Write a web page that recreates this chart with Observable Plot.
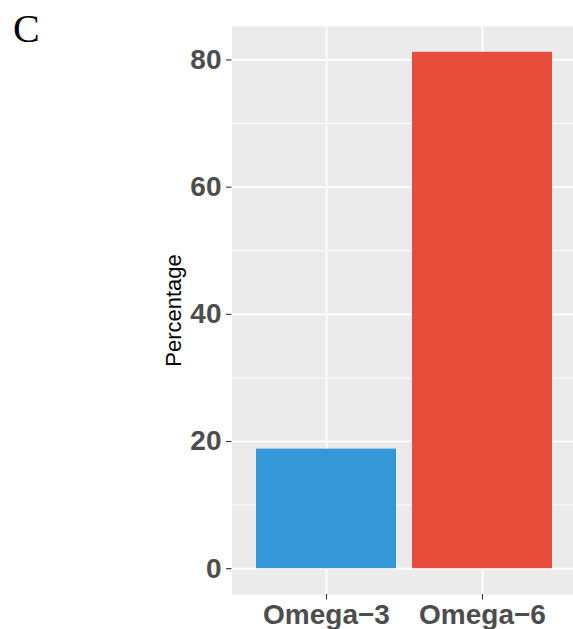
<!DOCTYPE html>
<html>
<head>
<meta charset="utf-8">
<script src="https://cdn.jsdelivr.net/npm/d3@7"></script>
<script src="https://cdn.jsdelivr.net/npm/@observablehq/plot@0.6"></script>
<style>
  html, body { margin: 0; padding: 0; background: #fff; overflow: hidden; width: 573px; height: 629px; }
  #wrap { position: relative; width: 573px; height: 629px; overflow: hidden; }
  #panel { position: absolute; left: 13px; top: 0px; font-family: "Liberation Serif", "Times New Roman", serif; font-size: 40px; line-height: 1; padding-top: 9px; color: #000; }
  #chart { position: absolute; left: 0; top: 0; }
  #chart svg { display: block; }
</style>
</head>
<body>
<div id="wrap">
  <div id="chart"></div>
  <div id="panel">C</div>
</div>
<script>
const categories = ["Omega\u22123", "Omega\u22126"];
const percentages = [18.8, 81.2];
const barColors = ["#3498D8", "#E84C3B"];
const yTicks = [0, 20, 40, 60, 80];
const yMinor = [10, 30, 50, 70];
const yLabel = "Percentage";

const data = categories.map((c, i) => ({category: c, value: percentages[i], color: barColors[i]}));
const maxV = d3.max(percentages);
const pad = maxV * 0.05;

const chart = Plot.plot({
  width: 573,
  height: 629,
  marginLeft: 231.5,
  marginRight: 0,
  marginTop: 26,
  marginBottom: 35,
  style: {fontFamily: "'Liberation Sans', Arial, Helvetica, sans-serif", background: "transparent"},
  x: {type: "band", domain: categories, range: [231.5, 576], paddingInner: 0.1, paddingOuter: 0.15, axis: null},
  y: {domain: [-pad, maxV + pad], axis: null},
  marks: [
    Plot.frame({fill: "#EBEBEB", stroke: null}),
    Plot.gridY(yMinor, {stroke: "#fff", strokeOpacity: 1, strokeWidth: 0.9}),
    Plot.gridY(yTicks, {stroke: "#fff", strokeOpacity: 1, strokeWidth: 1.7}),
    Plot.gridX(categories, {stroke: "#fff", strokeOpacity: 1, strokeWidth: 1.7}),
    Plot.barY(data, {x: "category", y: "value", fill: "color"}),
    Plot.axisY({ticks: yTicks, tickSize: 5.5, tickPadding: 5, stroke: "#333", strokeWidth: 1.1,
      fill: "#4D4D4D", fontSize: 28, fontWeight: "bold", tickFormat: d => d, label: null}),
    Plot.axisX({ticks: categories, tickSize: 5.5, tickPadding: 4, stroke: "#333", strokeWidth: 1.1,
      fill: "#4D4D4D", fontSize: 28, fontWeight: "bold", label: null}),
    Plot.text([yLabel], {frameAnchor: "left", text: d => d, dx: -58.5, rotate: -90,
      fontSize: 22, fill: "#000", textAnchor: "middle", lineAnchor: "middle"})
  ]
});
document.getElementById("chart").appendChild(chart);
</script>
</body>
</html>
